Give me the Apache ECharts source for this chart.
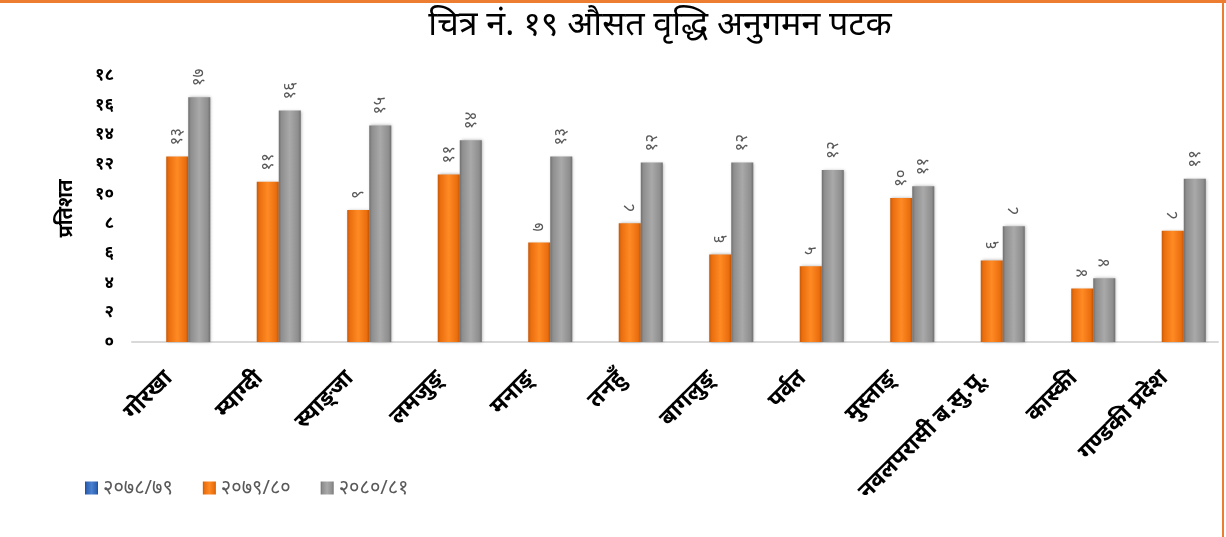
<!DOCTYPE html>
<html><head><meta charset="utf-8">
<script src="https://cdn.jsdelivr.net/npm/echarts@6/dist/echarts.min.js"></script>
<style>html,body{margin:0;padding:0;background:#fff}#c{width:1226px;height:537px}</style>
</head><body><div id="c"></div>
<script>
const titleText = 'चित्र नं. १९ औसत वृद्धि अनुगमन पटक';
const yAxisName = 'प्रतिशत';
const categories = ['गोरखा','म्याग्दी','स्याङ्जा','लमजुङ्','मनाङ्','तनहुँ','बागलुङ्','पर्वत','मुस्ताङ्','नवलपरासी ब.सु.पू.','कास्की','गण्डकी प्रदेश'];
const seriesNames = ['२०७८/७९','२०७९/८०','२०८०/८१'];
const values7879 = [null,null,null,null,null,null,null,null,null,null,null,null];
const values7980 = [12.5,10.8,8.9,11.3,6.7,8.0,5.9,5.1,9.7,5.5,3.6,7.5];
const values8081 = [16.5,15.6,14.6,13.6,12.5,12.1,12.1,11.6,10.5,7.8,4.3,11.0];
const yTicks = {min:0, max:18, interval:2};

const dev = '०१२३४५६७८९';
const toDev = s => String(s).replace(/[0-9]/g, d => dev[+d]);
const FONT = '"Noto Sans", "Noto Sans Devanagari", "Lohit Devanagari", sans-serif';

function grad(dark, mid, light){
  return new echarts.graphic.LinearGradient(0,0,1,0,[
    {offset:0,color:dark},{offset:0.12,color:mid},{offset:0.5,color:light},{offset:0.88,color:mid},{offset:1,color:dark}]);
}
const blueG = grad('#1f4a8a','#2f63b3','#4a80d0');
const orangeG = grad('#c85706','#ea6e0e','#ff8a24');
const grayG = grad('#6f6f6f','#8e8e8e','#a9a9a9');

const lbl = {show:true, position:'top', rotate:90, distance:11, color:'#595959', fontSize:17, fontFamily:FONT,
  align:'left', verticalAlign:'middle', formatter: p => p.value==null ? '' : toDev(Math.round(p.value))};

const chart = echarts.init(document.getElementById('c'), null, {renderer:'canvas'});
chart.setOption({
  backgroundColor:'#fff',
  animation:false,
  title:{text:titleText, left:655, textAlign:'center', top:3,
    textStyle:{fontSize:34, fontWeight:'normal', color:'#000', fontFamily:FONT}},
  legend:{left:80, top:473, itemWidth:13, itemHeight:13, itemGap:30, icon:'rect',
    textStyle:{fontSize:20, color:'#595959', fontFamily:FONT}, data:seriesNames},
  grid:{left:132, right:8, top:75, bottom:195},
  xAxis:{type:'category', data:categories,
    axisLine:{lineStyle:{color:'#d9d9d9', width:2}}, axisTick:{show:false},
    axisLabel:{rotate:45, interval:0, margin:24, padding:[0,12,0,0], fontSize:23, color:'#000', fontWeight:'bold', fontFamily:FONT}},
  yAxis:{type:'value', min:yTicks.min, max:yTicks.max, interval:yTicks.interval,
    name:yAxisName, nameLocation:'middle', nameGap:56, nameRotate:90,
    nameTextStyle:{fontSize:20, fontWeight:'bold', color:'#000', fontFamily:FONT},
    splitLine:{show:false}, axisLine:{show:false}, axisTick:{show:false},
    axisLabel:{margin:18, fontSize:17, color:'#000', fontWeight:'bold', fontFamily:FONT, formatter:v=>toDev(v)}},
  series:[
    {name:seriesNames[0], type:'bar', data:values7879, barGap:'0%', barCategoryGap:'27%', itemStyle:{color:blueG}, label:lbl},
    {name:seriesNames[1], type:'bar', data:values7980, barGap:'0%', barCategoryGap:'27%',
      itemStyle:{color:orangeG, shadowColor:'rgba(0,0,0,0.3)', shadowBlur:3, shadowOffsetX:1}, label:lbl},
    {name:seriesNames[2], type:'bar', data:values8081, barGap:'0%', barCategoryGap:'27%',
      itemStyle:{color:grayG, shadowColor:'rgba(0,0,0,0.3)', shadowBlur:3, shadowOffsetX:1}, label:lbl}
  ],
  graphic:[
    {type:'rect', left:0, top:0, shape:{width:1226, height:3}, style:{fill:'#ed7d31'}, silent:true},
    {type:'rect', right:2, top:0, shape:{width:2, height:537}, style:{fill:'#ed7d31'}, silent:true}
  ]
});
</script></body></html>
